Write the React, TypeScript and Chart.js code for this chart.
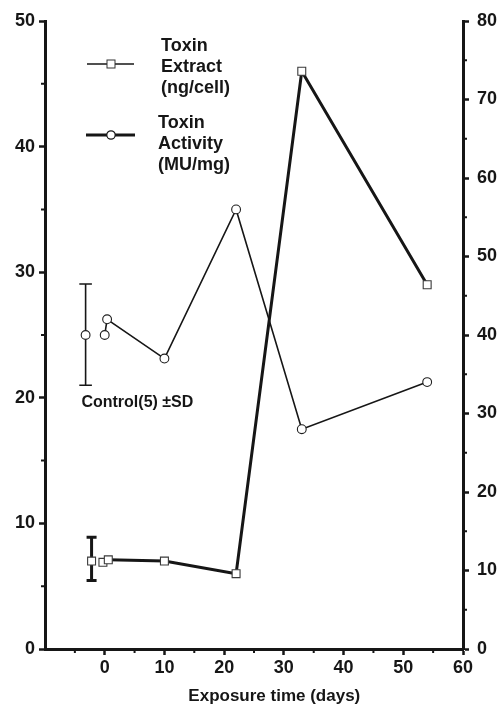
import React, { useEffect, useRef } from 'react';
import { Chart, registerables } from 'chart.js';

Chart.register(...registerables);

// ---- data ----
const extractX = [0.6, 10, 22, 33, 54];
const extractY = [7.1, 7.0, 6.0, 46, 29];
const extractLooseX = [-0.3];
const extractLooseY = [6.9];
const extractControlX = [-2.2];
const extractControlY = [7.0];
const extractControlLow = [5.45];
const extractControlHigh = [8.9];

const activityX = [0, 0.4, 10, 22, 33, 54];
const activityY = [40, 42, 37, 56, 28, 34];
const activityControlX = [-3.2];
const activityControlY = [40];
const activityControlLow = [33.6];
const activityControlHigh = [46.5];

const xTickValues = [0, 10, 20, 30, 40, 50, 60];
const leftTickValues = [0, 10, 20, 30, 40, 50];
const rightTickValues = [0, 10, 20, 30, 40, 50, 60, 70, 80];

const X_MIN = -10;
const X_MAX = 60;
const Y_MAX = 50;
const Y2_MAX = 80;

const FONT = '"Liberation Sans", Arial, Helvetica, sans-serif';
const INK = '#161616';

const pts = (xs: number[], ys: number[]) => xs.map((x, i) => ({ x, y: ys[i] }));

const errorBars = {
  id: 'errorBars',
  beforeDatasetsDraw(chart: any) {
    const { ctx, scales } = chart;
    const draw = (xs: number[], lo: number[], hi: number[], yScale: any, lw: number, cap: number) => {
      ctx.save();
      ctx.strokeStyle = INK;
      ctx.lineWidth = lw;
      xs.forEach((xv, i) => {
        const px = scales.x.getPixelForValue(xv);
        const y1 = yScale.getPixelForValue(lo[i]);
        const y2 = yScale.getPixelForValue(hi[i]);
        ctx.beginPath();
        ctx.moveTo(px, y1);
        ctx.lineTo(px, y2);
        ctx.moveTo(px - cap, y1);
        ctx.lineTo(px + cap, y1);
        ctx.moveTo(px - cap, y2);
        ctx.lineTo(px + cap, y2);
        ctx.stroke();
      });
      ctx.restore();
    };
    draw(extractControlX, extractControlLow, extractControlHigh, scales.y, 3, 5);
    draw(activityControlX, activityControlLow, activityControlHigh, scales.y2, 1.6, 6.3);
  },
};

const minorTicks = {
  id: 'minorTicks',
  afterDraw(chart: any) {
    const { ctx, scales } = chart;
    ctx.save();
    ctx.strokeStyle = INK;
    ctx.lineWidth = 2;
    const len = 4;
    ctx.beginPath();
    for (let v = X_MIN + 5; v < X_MAX; v += 10) {
      const p = scales.x.getPixelForValue(v);
      ctx.moveTo(p, scales.x.top);
      ctx.lineTo(p, scales.x.top + len);
    }
    for (let v = 5; v < Y_MAX; v += 10) {
      const p = scales.y.getPixelForValue(v);
      ctx.moveTo(scales.y.right, p);
      ctx.lineTo(scales.y.right - len, p);
    }
    for (let v = 5; v < Y2_MAX; v += 10) {
      const p = scales.y2.getPixelForValue(v);
      ctx.moveTo(scales.y2.left, p);
      ctx.lineTo(scales.y2.left + len, p);
    }
    ctx.stroke();
    ctx.restore();
  },
};

const annotations = {
  id: 'annotations',
  afterDraw(chart: any) {
    const { ctx, scales } = chart;
    ctx.save();
    ctx.fillStyle = INK;
    // x-axis title
    ctx.font = `bold 17px ${FONT}`;
    ctx.textAlign = 'center';
    ctx.textBaseline = 'alphabetic';
    ctx.fillText('Exposure time (days)', scales.x.getPixelForValue(28.4), 701);
    // control label
    ctx.font = `bold 16px ${FONT}`;
    ctx.textAlign = 'left';
    ctx.fillText('Control(5) \u00B1SD', scales.x.getPixelForValue(-3.9), scales.y.getPixelForValue(19.3));

    // legend
    ctx.font = `bold 18px ${FONT}`;
    ['Toxin', 'Extract', '(ng/cell)'].forEach((t, i) => ctx.fillText(t, 161, 51 + i * 21));
    ['Toxin', 'Activity', '(MU/mg)'].forEach((t, i) => ctx.fillText(t, 158, 128 + i * 21));

    ctx.strokeStyle = INK;
    ctx.lineWidth = 1.6;
    ctx.beginPath();
    ctx.moveTo(87, 64);
    ctx.lineTo(134, 64);
    ctx.stroke();
    ctx.fillStyle = '#fff';
    ctx.lineWidth = 1;
    ctx.strokeStyle = '#333';
    ctx.fillRect(107, 60, 8, 8);
    ctx.strokeRect(107, 60, 8, 8);

    ctx.strokeStyle = INK;
    ctx.lineWidth = 3;
    ctx.beginPath();
    ctx.moveTo(86, 135);
    ctx.lineTo(135, 135);
    ctx.stroke();
    ctx.lineWidth = 1.2;
    ctx.beginPath();
    ctx.arc(111, 135, 4.2, 0, Math.PI * 2);
    ctx.fillStyle = '#fff';
    ctx.fill();
    ctx.stroke();
    ctx.restore();
  },
};

const tickFont = { family: FONT, size: 18, weight: 'bold' as const };

export default function App() {
  const ref = useRef<HTMLCanvasElement | null>(null);

  useEffect(() => {
    document.body.style.margin = '0';
    const canvas = ref.current;
    if (!canvas) return;
    const squareStyle = {
      pointStyle: 'rect' as const,
      pointRadius: 5.6,
      pointBackgroundColor: '#ffffff',
      pointBorderColor: '#3a3a3a',
      pointBorderWidth: 1.1,
    };
    const circleStyle = {
      pointStyle: 'circle' as const,
      pointRadius: 4.4,
      pointBackgroundColor: '#ffffff',
      pointBorderColor: '#1e1e1e',
      pointBorderWidth: 1.1,
    };
    const chart = new Chart(canvas, {
      type: 'scatter',
      data: {
        datasets: [
          {
            label: 'Toxin Extract (ng/cell)',
            data: pts(extractX, extractY),
            yAxisID: 'y',
            showLine: true,
            borderColor: INK,
            borderWidth: 3,
            ...squareStyle,
            order: 1,
          },
          {
            label: 'Toxin Extract extra',
            data: [...pts(extractLooseX, extractLooseY), ...pts(extractControlX, extractControlY)],
            yAxisID: 'y',
            showLine: false,
            ...squareStyle,
            order: 2,
          },
          {
            label: 'Toxin Activity (MU/mg)',
            data: pts(activityX, activityY),
            yAxisID: 'y2',
            showLine: true,
            borderColor: INK,
            borderWidth: 1.6,
            ...circleStyle,
            order: 3,
          },
          {
            label: 'Toxin Activity control',
            data: pts(activityControlX, activityControlY),
            yAxisID: 'y2',
            showLine: false,
            ...circleStyle,
            order: 4,
          },
        ],
      },
      options: {
        animation: false,
        responsive: true,
        maintainAspectRatio: false,
        layout: { padding: { top: 21, left: 0, right: 0, bottom: 0 } },
        plugins: { legend: { display: false }, tooltip: { enabled: false } },
        scales: {
          x: {
            type: 'linear',
            min: X_MIN,
            max: X_MAX,
            afterFit: (s: any) => { s.height = 58; },
            afterBuildTicks: (s: any) => { s.ticks = [X_MIN, ...xTickValues].map((v) => ({ value: v })); },
            ticks: {
              autoSkip: false,
              maxRotation: 0,
              padding: 2,
              color: INK,
              font: tickFont,
              callback: (v: any) => (v >= 0 ? String(v) : ''),
            },
            grid: {
              drawOnChartArea: false,
              drawTicks: true,
              tickLength: 6,
              tickWidth: 2.5,
              tickColor: (c: any) => (c.tick && c.tick.value < 0 ? 'rgba(0,0,0,0)' : INK),
            },
            border: { display: true, color: INK, width: 3 },
          },
          y: {
            type: 'linear',
            position: 'left',
            min: 0,
            max: Y_MAX,
            afterFit: (s: any) => { s.width = 45; },
            afterBuildTicks: (s: any) => { s.ticks = leftTickValues.map((v) => ({ value: v })); },
            ticks: { autoSkip: false, padding: 4, color: INK, font: tickFont },
            grid: { drawOnChartArea: false, drawTicks: true, tickLength: 6, tickWidth: 2.5, tickColor: INK },
            border: { display: true, color: INK, width: 3 },
          },
          y2: {
            type: 'linear',
            position: 'right',
            min: 0,
            max: Y2_MAX,
            afterFit: (s: any) => { s.width = 38; },
            afterBuildTicks: (s: any) => { s.ticks = rightTickValues.map((v) => ({ value: v })); },
            ticks: { autoSkip: false, padding: 8, color: INK, font: tickFont },
            grid: { drawOnChartArea: false, drawTicks: true, tickLength: 6, tickWidth: 2.5, tickColor: INK },
            border: { display: true, color: INK, width: 3 },
          },
        },
      },
      plugins: [errorBars, minorTicks, annotations],
    });
    return () => chart.destroy();
  }, []);

  return (
    <div style={{ position: 'fixed', left: 0, top: 0, width: 501, height: 707, background: '#fff' }}>
      <canvas ref={ref} />
    </div>
  );
}
